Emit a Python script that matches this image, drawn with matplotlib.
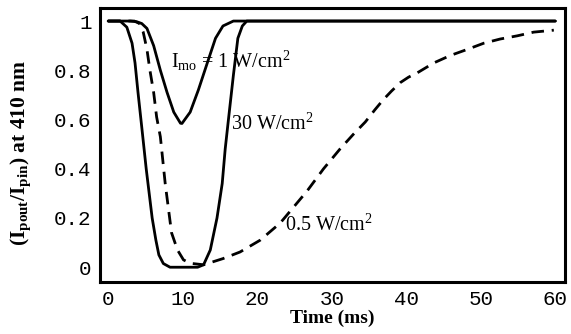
import matplotlib
matplotlib.use("Agg")
import matplotlib.pyplot as plt

# Data
t_30 = [0, 1.6, 2.5, 3.2, 3.6, 4.0, 4.5, 5.1, 5.9, 6.4, 6.8, 7.4, 8.3, 10, 12.0, 12.8,
        13.7, 14.6, 15.3, 15.7, 16.1, 16.8, 17.4, 18.0, 18.6, 20, 60]
y_30 = [1, 1, 0.975, 0.91, 0.83, 0.71, 0.57, 0.4, 0.2, 0.11, 0.05, 0.015, 0.0, 0.0, 0.0, 0.01,
        0.07, 0.2, 0.34, 0.48, 0.59, 0.78, 0.93, 0.98, 1.0, 1.0, 1.0]

t_1 = [0, 3.0, 3.85, 4.5, 5.2, 6.1, 7.0, 7.9, 8.8, 9.7, 9.9, 11.0, 12.1, 13.3, 14.4, 15.4, 16.8, 60]
y_1 = [1, 1, 0.997, 0.99, 0.97, 0.90, 0.80, 0.71, 0.63, 0.585, 0.584, 0.63, 0.72, 0.83, 0.93,
       0.98, 1.0, 1.0]

t_05 = [0, 3.5, 4.2, 4.7, 5.2, 5.6, 6.1, 6.5, 7.0, 7.65, 8.5, 9.3, 10.1, 11.0, 12.8, 15.4,
        17.7, 20.4, 23.1, 24.9, 26.7, 28.9, 31.1, 32.9, 34.5, 35.8, 36.9, 38.0, 39.2, 40.3, 41.5,
        43.7, 45.9, 48.2, 50.4, 52.6, 54.9, 57.1, 59.8]
y_05 = [1, 1, 0.99, 0.955, 0.885, 0.80, 0.71, 0.61, 0.53, 0.34, 0.14, 0.07, 0.03, 0.016, 0.01,
        0.035, 0.062, 0.11, 0.18, 0.245, 0.31, 0.40, 0.48, 0.54, 0.59, 0.64, 0.68, 0.715, 0.75,
        0.772, 0.79, 0.83, 0.86, 0.885, 0.91, 0.927, 0.94, 0.955, 0.963]

x_ticks = [0, 10, 20, 30, 40, 50, 60]
y_ticks = [0, 0.2, 0.4, 0.6, 0.8, 1]
y_tick_labels = ["0", "0.2", "0.4", "0.6", "0.8", "1"]

plt.rcParams['mathtext.fontset'] = 'custom'
plt.rcParams['mathtext.rm'] = 'Liberation Serif'
plt.rcParams['mathtext.it'] = 'Liberation Serif:italic'
plt.rcParams['mathtext.bf'] = 'Liberation Serif:bold'

fig = plt.figure(figsize=(5.71, 3.34), dpi=100)
ax = fig.add_axes([100/571, 1-282/334, 465/571, 274/334])

lw = 2.0
ax.plot(t_30, y_30, color='black', lw=lw, solid_joinstyle='round', solid_capstyle='round')
ax.plot(t_1, y_1, color='black', lw=lw, solid_joinstyle='round', solid_capstyle='round')
ax.plot(t_05, y_05, color='black', lw=lw, linestyle=(0, (4.5, 2.8)))

ax.set_xlim(-1.1, 61.3)
ax.set_ylim(-0.06, 1.053)

ax.set_xticks(x_ticks)
ax.set_xticklabels([str(v) for v in x_ticks], fontfamily='Liberation Mono', fontsize=15)
ax.set_yticks(y_ticks)
ax.set_yticklabels(y_tick_labels, fontfamily='Liberation Mono', fontsize=15)
ax.tick_params(length=0, pad=6)

for s in ax.spines.values():
    s.set_linewidth(2.2)

ax.set_xlabel('Time (ms)', fontfamily='Liberation Serif', fontweight='bold', fontsize=14, labelpad=0)
ax.set_ylabel(r'$\mathbf{(I_{pout}/I_{pin})}$ at 410 nm', fontfamily='Liberation Serif',
              fontweight='bold', fontsize=15.5)
ax.yaxis.set_label_coords(-0.145, 0.47)

ax.text(8.4, 0.84, r'$\mathrm{I_{mo}}$ = 1 W/cm$^2$', fontfamily='Liberation Serif', fontsize=14.5,
        va='center', ha='left')
ax.text(16.5, 0.58, r'30 W/cm$^2$', fontfamily='Liberation Serif', fontsize=14.5,
        va='center', ha='left')
ax.text(23.7, 0.17, r'0.5 W/cm$^2$', fontfamily='Liberation Serif', fontsize=14.5,
        va='center', ha='left')

fig.savefig('out.png', dpi=100)
